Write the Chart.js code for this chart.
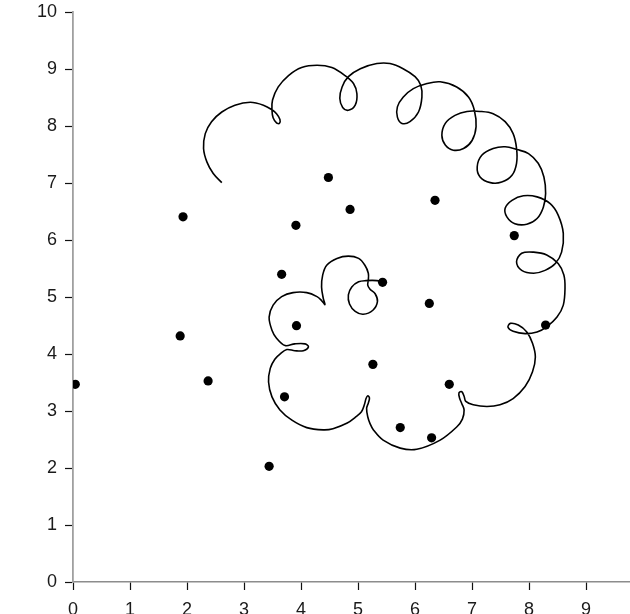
<!DOCTYPE html>
<html>
<head>
<meta charset="utf-8">
<script src="https://cdn.jsdelivr.net/npm/chart.js@4.4.1/dist/chart.umd.min.js"></script>
<style>
html,body{margin:0;padding:0;background:#fff;overflow:hidden;}
#wrap{width:630px;height:614px;position:relative;}
canvas{display:block;}
</style>
</head>
<body>
<div id="wrap"><canvas id="c" width="630" height="614"></canvas></div>
<script>
// Scatter points
const dotX = [0.04, 1.93, 1.88, 2.37, 3.44, 3.66, 3.91, 3.92, 3.71, 4.48, 4.86, 5.43, 5.26, 5.74, 6.29, 6.25, 6.35, 6.60, 7.74, 8.29];
const dotY = [3.47, 6.41, 4.32, 3.53, 2.03, 5.40, 6.26, 4.50, 3.25, 7.10, 6.54, 5.26, 3.82, 2.71, 2.53, 4.89, 6.70, 3.47, 6.08, 4.51];

// Looping spiral curve, traced from outer end to inner end
const curveX = [2.61,2.46,2.35,2.29,2.32,2.43,2.61,2.84,3.11,3.34,3.49,3.57,3.63,3.62,3.57,3.51,3.49,3.50,3.60,3.78,
4.01,4.28,4.54,4.77,4.92,4.98,4.95,4.83,4.73,4.68,4.72,4.83,5.04,5.33,5.56,5.79,6.00,6.10,6.12,6.06,
5.91,5.77,5.69,5.69,5.79,5.97,6.21,6.44,6.73,6.94,7.04,7.07,7.00,6.85,6.67,6.53,6.47,6.53,6.70,6.91,
7.14,7.37,7.58,7.72,7.78,7.78,7.70,7.52,7.32,7.14,7.09,7.17,7.37,7.58,7.79,7.99,8.16,8.26,8.29,8.25,
8.14,7.96,7.75,7.61,7.58,7.70,7.90,8.14,8.37,8.51,8.60,8.57,8.46,8.28,8.08,7.87,7.78,7.87,8.08,8.31,
8.51,8.61,8.63,8.60,8.49,8.31,8.14,7.93,7.72,7.63,7.67,7.81,7.96,8.06,8.11,8.06,7.93,7.72,7.49,7.26,
7.02,6.89,6.86,6.82,6.77,6.78,6.82,6.86,6.83,6.73,6.44,6.03,5.74,5.44,5.27,5.21,5.17,5.15,5.18,5.20,
5.17,5.14,5.11,5.06,4.95,4.81,4.56,4.39,4.10,3.84,3.63,3.49,3.43,3.46,3.54,3.63,3.75,3.89,4.04,4.13,
4.07,3.89,3.72,3.57,3.49,3.44,3.51,3.66,3.86,4.10,4.28,4.36,4.42,4.39,4.36,4.38,4.45,4.63,4.83,5.01,
5.12,5.18,5.18,5.17,5.21,5.30,5.34,5.26,5.09,4.95,4.85,4.83,4.89,5.01,5.14,5.33,5.43];
const curveY = [7.01,7.17,7.37,7.61,7.87,8.08,8.25,8.37,8.42,8.37,8.29,8.22,8.12,8.05,8.06,8.15,8.28,8.46,8.69,8.89,
9.03,9.07,9.03,8.89,8.75,8.57,8.37,8.28,8.33,8.49,8.69,8.87,9.01,9.10,9.10,9.01,8.87,8.72,8.51,8.25,
8.08,8.05,8.16,8.34,8.51,8.66,8.75,8.78,8.69,8.51,8.28,7.99,7.75,7.61,7.58,7.67,7.84,8.05,8.19,8.26,
8.26,8.22,8.08,7.87,7.61,7.35,7.14,7.02,7.01,7.11,7.29,7.49,7.61,7.64,7.59,7.52,7.35,7.11,6.82,6.58,
6.38,6.28,6.29,6.41,6.56,6.70,6.78,6.76,6.64,6.44,6.12,5.79,5.59,5.47,5.42,5.47,5.62,5.77,5.79,5.74,
5.59,5.39,5.16,4.86,4.65,4.48,4.39,4.36,4.40,4.47,4.54,4.51,4.39,4.19,3.95,3.69,3.43,3.22,3.11,3.08,
3.11,3.17,3.26,3.34,3.32,3.23,3.13,3.02,2.86,2.72,2.49,2.33,2.35,2.49,2.67,2.78,2.90,3.05,3.14,3.23,
3.27,3.22,3.11,2.99,2.89,2.79,2.69,2.67,2.71,2.84,3.02,3.25,3.51,3.75,3.91,4.00,4.08,4.06,4.06,4.13,
4.18,4.18,4.15,4.28,4.42,4.65,4.86,5.01,5.08,5.08,5.01,4.94,4.87,4.98,5.18,5.39,5.56,5.68,5.72,5.68,
5.56,5.42,5.30,5.21,5.14,5.06,4.92,4.77,4.70,4.75,4.88,5.04,5.18,5.27,5.29,5.29,5.26];

const xTicks = [0,1,2,3,4,5,6,7,8,9];
const yTicks = [0,1,2,3,4,5,6,7,8,9,10];
const xMin = 0, xMax = 9.77, yMin = 0, yMax = 10;

const curveData = curveX.map((x,i)=>({x:x, y:curveY[i]}));
const dotData = dotX.map((x,i)=>({x:x, y:dotY[i]}));

const tickFont = {family:"'Liberation Sans', Arial, sans-serif", size:18};

function zeroPad(s){ s.paddingTop=0; s.paddingBottom=0; s.paddingLeft=0; s.paddingRight=0; }

// Pin the plot area to the frame of the reference
const AREA = {left:73, right:630, top:12.3, bottom:582};
const pinArea = {
  id:'pinArea',
  afterLayout(chart){
    const ca = chart.chartArea;
    ca.left = AREA.left; ca.right = AREA.right; ca.top = AREA.top; ca.bottom = AREA.bottom;
    ca.width = ca.right - ca.left; ca.height = ca.bottom - ca.top;
    const sx = chart.scales.x, sy = chart.scales.y;
    sx.left = AREA.left; sx.right = AREA.right; sx.width = sx.right - sx.left;
    sx.top = AREA.bottom; sx.bottom = 614; sx.height = sx.bottom - sx.top;
    sy.top = AREA.top; sy.bottom = AREA.bottom; sy.height = sy.bottom - sy.top;
    sy.left = 0; sy.right = AREA.left; sy.width = AREA.left;
    sx.configure(); sy.configure();
  }
};

new Chart(document.getElementById('c'), {
  type:'scatter',
  data:{datasets:[
    {data:curveData, showLine:true, borderColor:'#000', borderWidth:1.6, pointRadius:0, tension:0.35, fill:false, order:2},
    {data:dotData, showLine:false, pointRadius:4.6, pointHoverRadius:4.6, backgroundColor:'#000', borderWidth:0, order:1}
  ]},
  plugins:[pinArea],
  options:{
    responsive:false, animation:false,
    plugins:{legend:{display:false}, tooltip:{enabled:false}},
    layout:{padding:{top:12.3, right:0, left:0, bottom:0}},
    scales:{
      x:{type:'linear', min:xMin, max:xMax,
        afterFit:(s)=>{s.height=32; zeroPad(s);},
        afterBuildTicks:(s)=>{s.ticks = xTicks.map(v=>({value:v}));},
        grid:{drawOnChartArea:false, drawTicks:true, tickLength:8, tickColor:'#111', tickWidth:1.2},
        border:{display:true, color:'#8c8c8c', width:1.4},
        ticks:{color:'#1a1a1a', font:tickFont, padding:9, maxRotation:0, autoSkip:false}
      },
      y:{type:'linear', min:yMin, max:yMax,
        afterFit:(s)=>{s.width=73; zeroPad(s);},
        afterBuildTicks:(s)=>{s.ticks = yTicks.map(v=>({value:v}));},
        grid:{drawOnChartArea:false, drawTicks:true, tickLength:8, tickColor:'#111', tickWidth:1.2},
        border:{display:true, color:'#a0a0a0', width:1.8},
        ticks:{color:'#1a1a1a', font:tickFont, padding:8, autoSkip:false}
      }
    }
  }
});
</script>
</body>
</html>
